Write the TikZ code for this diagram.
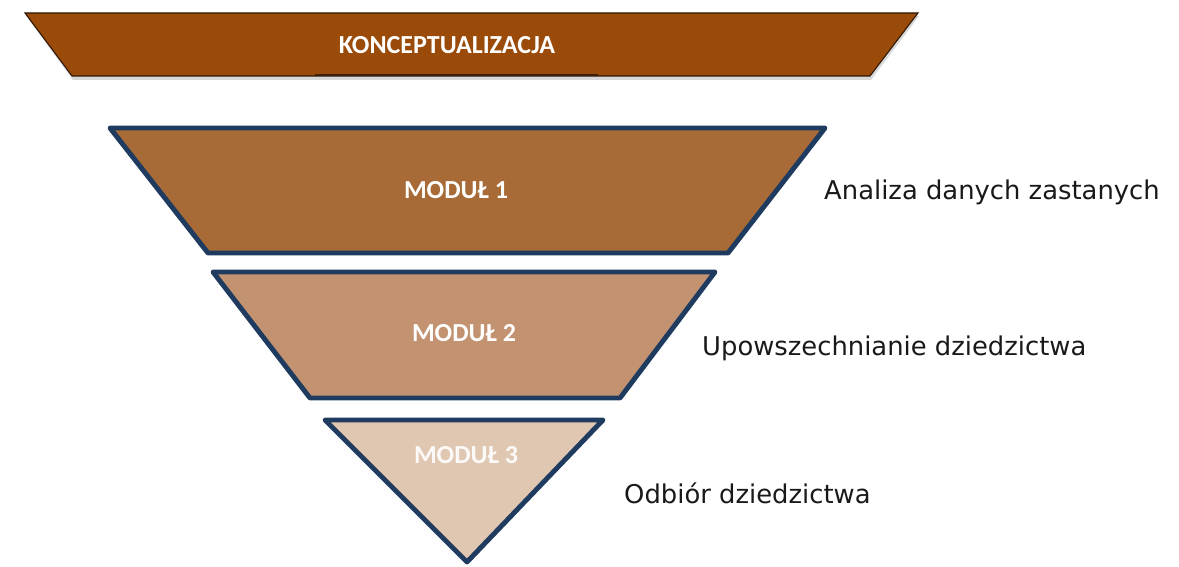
\documentclass[tikz,border=0pt]{standalone}
\usepackage{fontspec}
\setmainfont{DejaVu Sans}
\newfontfamily\calibri{Carlito}
\usepackage{tikz}

\definecolor{bannerbrown}{HTML}{9A4A09}
\definecolor{modone}{HTML}{A86B37}
\definecolor{modtwo}{HTML}{C39270}
\definecolor{modthree}{HTML}{E0C7B2}
\definecolor{modborder}{HTML}{1F3B5F}

\begin{document}
\begin{tikzpicture} [x=0.02cm, y=-0.02cm]
    \tikzstyle{module} = [draw=modborder,line width=2.8pt,line join=round]
    \tikzstyle{module text} = [font=\calibri\bfseries\fontsize{14.8}{16}\selectfont,text=white]
    \tikzstyle{side text} = [font=\fontsize{14.7}{17}\selectfont,anchor=west,text=black!90]

      \useasboundingbox (0,0) rectangle (1179,567);

      % banner with its shadow
      \fill[black!30,opacity=0.5] (26,16) -- (919,16) -- (871,80) -- (73,80) -- cycle;
      \filldraw[fill=bannerbrown,draw=black!70!bannerbrown,line width=0.6pt]
        (25,13) -- (918,13) -- (870,76) -- (72,76) -- cycle;
      \draw[black!60!bannerbrown,line width=1.5pt] (315,75) -- (598,75);

      % the three modules
      \filldraw[module,fill=modone]   (110,128) -- (825,128) -- (728,253) -- (208,253) -- cycle;
      \filldraw[module,fill=modtwo]   (213,272) -- (715,272) -- (620,398) -- (310,398) -- cycle;
      \filldraw[module,fill=modthree] (325,420) -- (603,420) -- (467,562) -- cycle;

      \node[module text] (konc) at (447,45)  {KONCEPTUALIZACJA};
      \node[module text] (m1)   at (456,190) {MODUŁ 1};
      \node[module text] (m2)   at (464,333) {MODUŁ 2};
      \node[module text,text=white!92!modthree] (m3) at (466,455) {MODUŁ 3};

      \node[side text] (a1) at (818,192) {Analiza danych zastanych};
      \node[side text] (a2) at (696,348) {Upowszechnianie dziedzictwa};
      \node[side text] (a3) at (618,493) {Odbiór dziedzictwa};
    \end{tikzpicture}
\end{document}
